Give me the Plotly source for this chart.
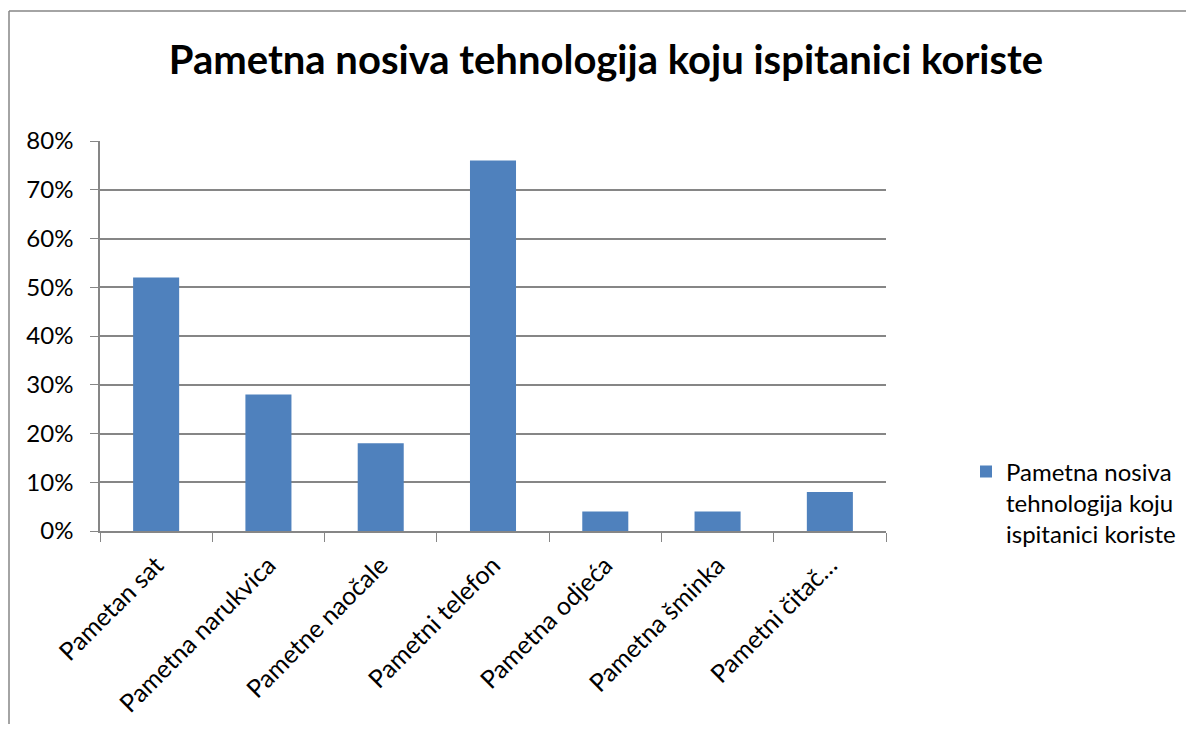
import plotly.graph_objects as go

categories = ["Pametan sat", "Pametna narukvica", "Pametne naočale", "Pametni telefon",
              "Pametna odjeća", "Pametna šminka", "Pametni čitač…"]
values = [52, 28, 18, 76, 4, 4, 8]
series_name = "Pametna nosiva<br>tehnologija koju<br>ispitanici koriste"
title_text = "Pametna nosiva tehnologija koju ispitanici koriste"
y_ticks = [0, 10, 20, 30, 40, 50, 60, 70, 80]
y_ticktext = [f"{v}%" for v in y_ticks]

# figure sits at (8, 8) on the page due to default body margin
W, H = 1186, 716
L, T = 92, 133
PR, PB = 878, 523  # plot area right / bottom in figure px
R, B = W - PR, H - PB
pw, ph = PR - L, PB - T

def px_x(x):
    return (x - L) / pw

def px_y(y):
    return (PB - y) / ph

FONT = "Lato"
GRID = "#868686"
fig = go.Figure()
fig.add_trace(go.Bar(
    x=categories, y=values, name=series_name,
    marker=dict(color="#4F81BD", line=dict(width=0)),
    width=0.41, showlegend=True,
))

fig.update_layout(
    width=W, height=H,
    margin=dict(l=L, r=R, t=T, b=B, autoexpand=False),
    paper_bgcolor="white", plot_bgcolor="white",
    font=dict(family=FONT, color="#000000", size=24),
    title=dict(text="<b>" + title_text + "</b>", x=598 / W, xanchor="center",
               y=1 - 52 / H, yanchor="middle", yref="container",
               font=dict(family=FONT, size=40, color="#000000")),
    showlegend=True,
    legend=dict(x=px_x(958), xanchor="left", y=px_y(495), yanchor="middle",
                font=dict(family=FONT, size=24), itemwidth=30, valign="top",
                bgcolor="rgba(0,0,0,0)"),
    xaxis=dict(showline=True, linecolor=GRID, linewidth=1.5,
               ticks="outside", tickson="boundaries", ticklen=9, tickcolor=GRID,
               tickangle=-45, showgrid=False, tickfont=dict(family=FONT, size=25),
               ticklabelstandoff=8,
               range=[-0.5, len(categories) - 0.5]),
    yaxis=dict(range=[0, 80], tickmode="array", tickvals=y_ticks, ticktext=y_ticktext,
               showline=True, linecolor=GRID, linewidth=1.5, ticks="outside", ticklen=8,
               tickcolor=GRID, showgrid=True, gridcolor=GRID, gridwidth=1.5,
               zeroline=False, tickfont=dict(family=FONT, size=24),
               ticklabelstandoff=12),
)

# outer chart border (left and top visible)
fig.add_shape(type="line", xref="paper", yref="paper",
              x0=px_x(1), x1=px_x(W), y0=px_y(3), y1=px_y(3),
              line=dict(color=GRID, width=1.5))
fig.add_shape(type="line", xref="paper", yref="paper",
              x0=px_x(1), x1=px_x(1), y0=px_y(3), y1=px_y(H),
              line=dict(color=GRID, width=1.5))

fig.write_html("out.html")
